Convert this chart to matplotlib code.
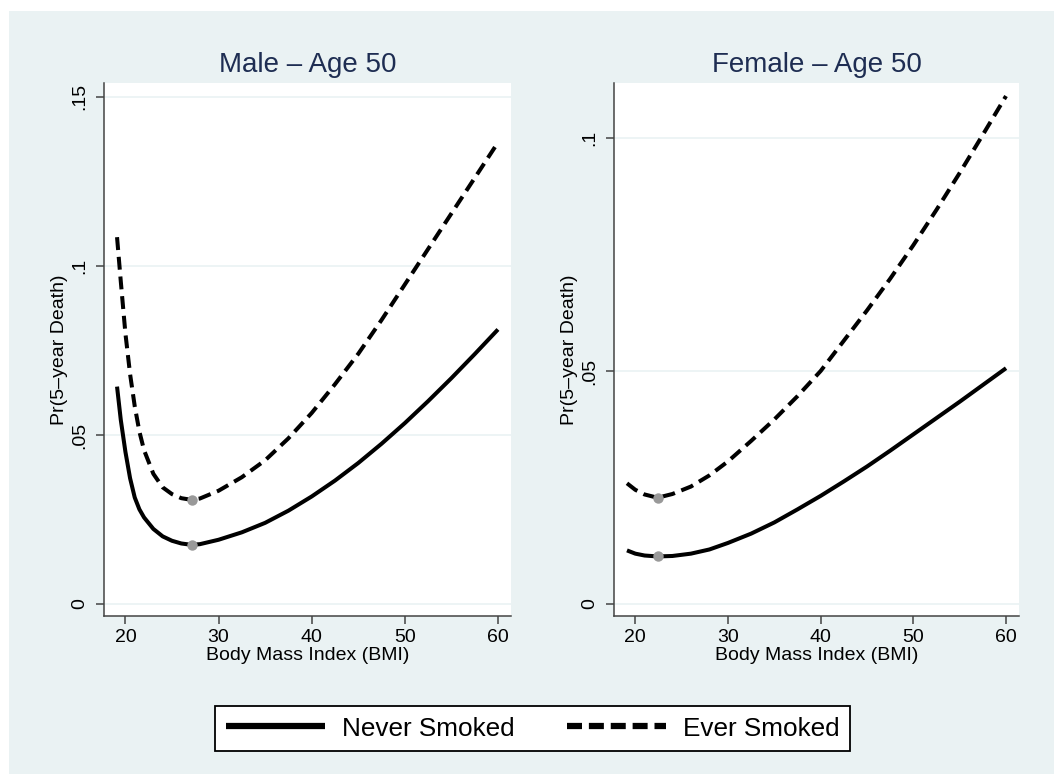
import matplotlib
matplotlib.use("Agg")
import matplotlib.pyplot as plt
from matplotlib.lines import Line2D
from matplotlib.patches import Rectangle

plt.rcParams['font.family'] = ['Liberation Sans', 'DejaVu Sans']

# BMI grid and predicted probabilities
male_bmi = [19.1, 19.5, 20, 20.5, 21, 21.5, 22, 23, 24, 25, 26, 27.1, 28, 30, 32.5, 35,
            37.5, 40, 42.5, 45, 47.5, 50, 52.5, 55, 57.5, 60]
male_never = [0.0643, 0.0545, 0.0450, 0.0372, 0.0315, 0.0280, 0.0256, 0.0222, 0.0200,
              0.0187, 0.0179, 0.0175, 0.0177, 0.0190, 0.0212, 0.0240, 0.0276, 0.0318,
              0.0365, 0.0417, 0.0474, 0.0535, 0.0600, 0.0668, 0.0739, 0.0812]
male_ever = [0.1085, 0.0955, 0.0800, 0.0680, 0.0585, 0.0510, 0.0455, 0.0385, 0.0345,
             0.0325, 0.0313, 0.0308, 0.0312, 0.0335, 0.0375, 0.0425, 0.0490, 0.0565,
             0.0650, 0.0740, 0.0840, 0.0945, 0.1050, 0.1155, 0.1260, 0.1365]

female_bmi = [19.1, 20, 21, 22.4, 24, 26, 28, 30, 32.5, 35, 37.5, 40, 42.5, 45,
              47.5, 50, 52.5, 55, 57.5, 60]
female_never = [0.0115, 0.0108, 0.0104, 0.0102, 0.0103, 0.0108, 0.0117, 0.0131, 0.0151,
                0.0175, 0.0203, 0.0232, 0.0263, 0.0295, 0.0329, 0.0364, 0.0399, 0.0434,
                0.0470, 0.0506]
female_ever = [0.0259, 0.0245, 0.0235, 0.0228, 0.0236, 0.0252, 0.0276, 0.0306, 0.0350,
               0.0396, 0.0446, 0.0500, 0.0565, 0.0630, 0.0698, 0.0770, 0.0846, 0.0925,
               0.1007, 0.1090]

# minimum points (gray dots)
male_min_bmi = 27.1
male_min = [0.0175, 0.0308]
female_min_bmi = 22.4
female_min = [0.0102, 0.0228]

male_yticks = [0, 0.05, 0.1, 0.15]
male_ylabels = ['0', '.05', '.1', '.15']
female_yticks = [0, 0.05, 0.1]
female_ylabels = ['0', '.05', '.1']
xticks = [20, 30, 40, 50, 60]

bg = '#EAF2F3'
title_col = '#1E2D52'
axis_col = '#444444'
lw = 2.9
dash = (3.2, 1.7)

fig = plt.figure(figsize=(10.54, 7.74), dpi=100)
fig.patch.set_facecolor('white')
fig.patches.append(Rectangle((9 / 1054, 0), 1 - 9 / 1054, 1 - 11 / 774,
                             transform=fig.transFigure, facecolor=bg,
                             edgecolor='none', zorder=-10))


def panel(rect, bmi, never, ever, min_bmi, mins, yticks, ylabels, ylim, title):
    ax = fig.add_axes(rect)
    ax.set_facecolor('white')
    ax.plot(bmi, never, color='black', lw=lw, solid_capstyle='butt', zorder=3)
    ax.plot(bmi, ever, color='black', lw=lw, dashes=dash, dash_capstyle='butt', zorder=3)
    ax.plot([min_bmi, min_bmi], mins, 'o', color='#999999', ms=7.5, mec='none', zorder=4)
    ax.set_xlim(17.7, 61.4)
    ax.set_ylim(*ylim)
    ax.set_xticks(xticks)
    ax.set_yticks(yticks)
    ax.set_yticklabels(ylabels, rotation=90, va='center')
    ax.grid(axis='y', color=bg, lw=1.2, zorder=0)
    ax.set_axisbelow(True)
    for s in ['top', 'right']:
        ax.spines[s].set_visible(False)
    for s in ['left', 'bottom']:
        ax.spines[s].set_color(axis_col)
        ax.spines[s].set_linewidth(1.1)
    ax.tick_params(axis='both', length=6, width=1.1, color=axis_col, labelsize=14)
    ax.tick_params(axis='x', pad=3)
    ax.tick_params(axis='y', pad=5)
    ax.set_xlabel('Body Mass Index (BMI)', fontsize=14, labelpad=1)
    ax.set_ylabel('Pr(5–year Death)', fontsize=14, labelpad=3)
    ax.set_title(title, fontsize=20, color=title_col, pad=8)
    return ax


panel([104 / 1054, 1 - 616 / 774, 407 / 1054, 533 / 774], male_bmi, male_never, male_ever,
      male_min_bmi, male_min, male_yticks, male_ylabels, (-0.00355, 0.1541), 'Male – Age 50')
panel([614 / 1054, 1 - 616 / 774, 405 / 1054, 533 / 774], female_bmi, female_never, female_ever,
      female_min_bmi, female_min, female_yticks, female_ylabels, (-0.00258, 0.1118),
      'Female – Age 50')

handles = [Line2D([], [], color='black', lw=4.5, solid_capstyle='butt'),
           Line2D([], [], color='black', lw=4.5, dashes=(2.4, 1.1), dash_capstyle='butt')]
leg = fig.legend(handles, ['Never Smoked', 'Ever Smoked'], loc='center',
                 bbox_to_anchor=(532.5 / 1054, 1 - 728.5 / 774), ncol=2, fontsize=18.8,
                 frameon=True, fancybox=False, handlelength=3.8, handletextpad=0.65,
                 columnspacing=2.0, borderpad=0.42, borderaxespad=0)
leg.get_frame().set_edgecolor('black')
leg.get_frame().set_linewidth(1.3)
leg.get_frame().set_facecolor('white')
leg.get_frame().set_alpha(1)

fig.savefig('out.png', dpi=100, facecolor=fig.get_facecolor())
